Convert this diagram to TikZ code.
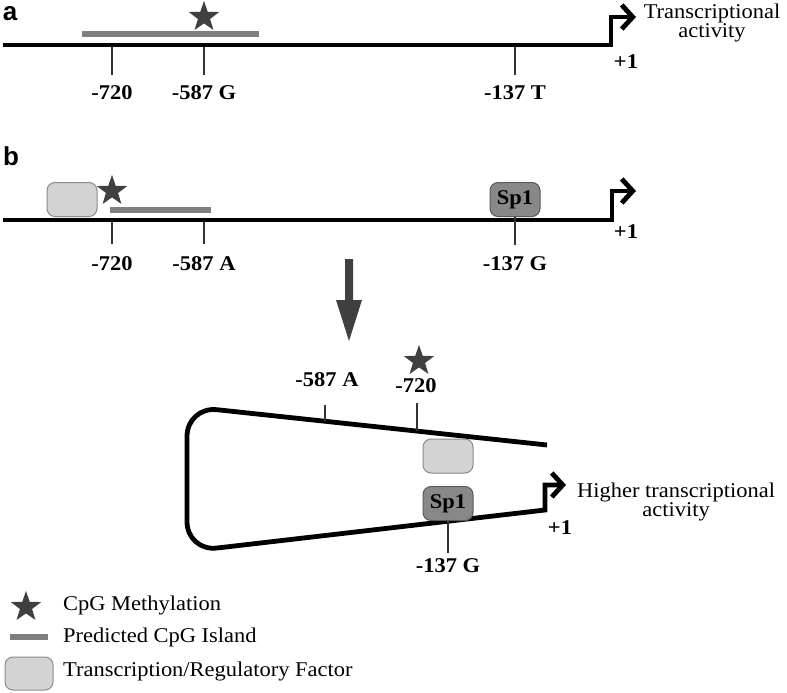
\documentclass[tikz,border=0pt]{standalone}
\usepackage{fontspec}
\setmainfont{Liberation Serif}[FakeStretch=1.07]
\newfontfamily\labsans{Liberation Sans}
\usetikzlibrary{shapes.geometric,arrows.meta}
\definecolor{stargray}{HTML}{404040}
\definecolor{bargray}{HTML}{7F7F7F}
\definecolor{tickgray}{HTML}{333333}
\definecolor{factorgray}{HTML}{D3D3D3}
\definecolor{boxedge}{HTML}{8A8A8A}
\definecolor{spgray}{HTML}{888888}
\definecolor{spedge}{HTML}{5A5A5A}
\begin{document}
\begin{tikzpicture}[x=1pt,y=-1pt, font=\fontsize{21}{19}\selectfont,
  dna/.style={line width=4.8pt, line join=miter},
  tss/.style={dna, -{Straight Barb[length=11pt,width=24pt]}},
  tick/.style={line width=1.6pt, draw=tickgray},
  island/.style={line width=6pt, draw=bargray},
  meth/.style={star, star points=5, star point ratio=2.5, fill=stargray, minimum size=32pt, inner sep=0pt},
  factor/.style={rounded corners=8pt, draw=boxedge, fill=factorgray, line width=1pt, minimum width=50pt, minimum height=34pt, inner sep=0pt},
  spbox/.style={factor, fill=spgray, draw=spedge, font=\fontsize{21}{21}\selectfont\bfseries},
  poslabel/.style={font=\fontsize{21}{21}\selectfont\bfseries},
  panel/.style={font=\labsans\fontsize{26}{26}\selectfont\bfseries, inner sep=0pt},
  note/.style={align=center, inner sep=0pt},
  legtext/.style={anchor=west, inner sep=0pt},
  ]
\useasboundingbox (0,0) rectangle (787,693);

% ---------- panel a ----------
\node[panel] (pa) at (10,14) {a};
\coordinate (a0) at (3,45);
\coordinate (aS) at (611,45);
\coordinate (aU) at (611,17);
\coordinate (aE) at (636,17);
\draw[island] (82,34) -- (259,34);
\draw[tss] (a0) -- (aS) -- (aU) -- (aE);
\node[meth] (sa) at (204,17) {};
\coordinate (ta1) at (112,47);
\coordinate (ta2) at (204,47);
\coordinate (ta3) at (515,47);
\draw[tick] (ta1) -- ++(0,28);
\draw[tick] (ta2) -- ++(0,28);
\draw[tick] (ta3) -- ++(0,28);
\node[poslabel] (la1) at (112,93) {-720};
\node[poslabel] (la2) at (204,93) {-587 G};
\node[poslabel] (la3) at (515,93) {-137 T};
\node[poslabel] (pa1) at (626,62) {+1};
\node[note] (ta) at (712,23) {Transcriptional\\activity};

% ---------- panel b ----------
\node[panel] (pb) at (11,156) {b};
\coordinate (b0) at (3,220);
\coordinate (bS) at (612,220);
\coordinate (bU) at (612,191);
\coordinate (bE) at (636,191);
\draw[island] (110,210) -- (211,210);
\draw[tss] (b0) -- (bS) -- (bU) -- (bE);
\node[factor] (fb) at (72,199.5) {};
\node[meth] (sb) at (112,191) {};
\node[spbox] (spb) at (515,199.5) {Sp1};
\coordinate (tb1) at (112,222);
\coordinate (tb2) at (204,222);
\draw[tick] (tb1) -- ++(0,22);
\draw[tick] (tb2) -- ++(0,22);
\draw[tick] (spb.south) -- ++(0,28);
\node[poslabel] (lb1) at (112,264) {-720};
\node[poslabel] (lb2) at (204,264) {-587 A};
\node[poslabel] (lb3) at (515,264) {-137 G};
\node[poslabel] (pb1) at (626,232) {+1};

% big arrow
\fill[stargray] (345,259) -- (353,259) -- (353,300) -- (362,300) -- (349,341) -- (336,300) -- (345,300) -- cycle;

% looped promoter
\coordinate (c0) at (547,445);
\coordinate (c1) at (187,406.5);
\coordinate (c2) at (187,551.5);
\coordinate (c3) at (545,510);
\coordinate (c4) at (545,485);
\coordinate (c5) at (566,485);
\draw[tss] (c0) [rounded corners=30pt] -- (c1) -- (c2) [sharp corners] -- (c3) -- (c4) -- (c5);
\node[factor] (fc) at (448,456) {};
\node[spbox] (spc) at (448,503.5) {Sp1};
\coordinate (tc1) at (325,421.3);
\coordinate (tc2) at (417,431.1);
\draw[tick] (tc1) -- (325,405);
\draw[tick] (tc2) -- (417,403);
\draw[tick] (spc.south) -- (448,553);
\node[poslabel] (lc1) at (327,380) {-587 A};
\node[poslabel] (lc2) at (416,386) {-720};
\node[meth] (sc) at (419,361) {};
\node[poslabel] (lc3) at (448,566) {-137 G};
\node[poslabel] (pc1) at (560,528) {+1};
\node[note, anchor=west] (tc) at (577,501.5) {Higher transcriptional\\activity};

% ---------- legend ----------
\node[meth] (sl) at (26,607) {};
\node[legtext] (tl1) at (63,605) {CpG Methylation};
\draw[island] (10,637) -- (48,637);
\node[legtext] (tl2) at (63,637) {Predicted CpG Island};
\node[factor, minimum width=48pt, minimum height=33pt] (fl) at (29,673.5) {};
\node[legtext] (tl3) at (63,671) {Transcription/Regulatory Factor};
\end{tikzpicture}
\end{document}
